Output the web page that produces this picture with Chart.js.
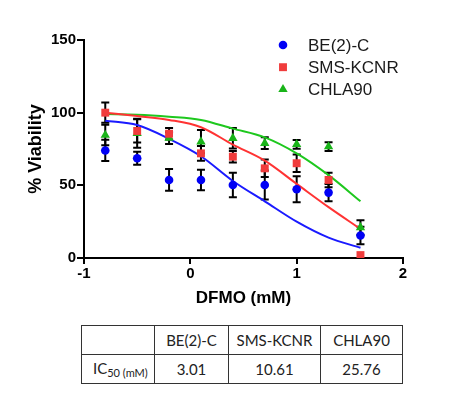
<!DOCTYPE html>
<html>
<head>
<meta charset="utf-8">
<script src="https://cdn.jsdelivr.net/npm/chart.js@4/dist/chart.umd.min.js"></script>
<style>
  html, body { margin: 0; padding: 0; background: #fff; }
  #wrap { position: relative; width: 450px; height: 395px; }
  #chartBox { position: absolute; left: 0; top: 0; width: 450px; height: 312px; }
  table { position: absolute; left: 81px; top: 325px; border-collapse: collapse;
          font-family: Lato, 'Open Sans', sans-serif; font-size: 15px; color: #222; }
  td { border: 1.5px solid #333; text-align: center; height: 28px; padding: 0; }
  td.lbl { text-align: left; padding-left: 11px; }
  sub { font-size: 11px; vertical-align: -3px; }
</style>
</head>
<body>
<div id="wrap">
  <div id="chartBox"><canvas id="myChart"></canvas></div>
  <table id="icTable"></table>
</div>
<script>
// log10 dose (mM)
const doseLog = [-0.8, -0.5, -0.2, 0.1, 0.4, 0.7, 1.0, 1.3, 1.6];
const be2cMean = [74, 68.6, 53.7, 53.7, 50.2, 50.2, 47.3, 45, 15.5];
const be2cErr = [7.3, 4.5, 7.5, 7, 8.4, 10, 9, 6, 6];
const kcnrMean = [100, 87.4, 85.5, 72, 69.7, 61.7, 65.2, 53.7, 2];
const kcnrErr = [7, 8, 4, 5, 4, 6, 6, 5, 0];
const chlaMean = [84.6, 85.8, 82.5, 80, 82.4, 79, 78.2, 76.6, 21];
const chlaErr = [7, 10, 4, 8, 7, 4, 3, 3, 5];

// fitted curves
const fitX = [-0.8, -0.5, -0.2, 0.1, 0.4, 0.7, 1.0, 1.3, 1.6];
const be2cFit = [94.5, 91.5, 82, 70, 53, 39, 25, 14, 7];
const kcnrFit = [100, 97.7, 95, 90, 78, 67, 51, 35, 20];
const chlaFit = [99, 98.6, 97.2, 95, 89, 83, 72, 57, 39];

const lineNames = ['BE(2)-C', 'SMS-KCNR', 'CHLA90'];
const ic50Values = ['3.01', '10.61', '25.76'];
const xTicks = [-1, 0, 1, 2];
const yTicks = [0, 50, 100, 150];

const BLUE = '#0000f5', RED = '#f03c3c', GREEN = '#19b419';
const BLUE_L = '#1a1aff', RED_L = '#ff3333', GREEN_L = '#1ec81e';

const pts = (xs, ys) => xs.map((x, i) => ({ x: x, y: ys[i] }));

// error bars behind the markers
const errorBars = {
  id: 'errorBars',
  beforeDatasetsDraw(chart) {
    const { ctx, scales: { x, y } } = chart;
    const sets = [[be2cMean, be2cErr], [kcnrMean, kcnrErr], [chlaMean, chlaErr]];
    ctx.save();
    ctx.strokeStyle = '#000';
    ctx.lineWidth = 2;
    sets.forEach(([m, e]) => {
      doseLog.forEach((d, i) => {
        if (!e[i]) return;
        const px = x.getPixelForValue(d);
        const top = y.getPixelForValue(m[i] + e[i]);
        const bot = y.getPixelForValue(m[i] - e[i]);
        ctx.beginPath();
        ctx.moveTo(px, top); ctx.lineTo(px, bot);
        ctx.moveTo(px - 4, top); ctx.lineTo(px + 4, top);
        ctx.moveTo(px - 4, bot); ctx.lineTo(px + 4, bot);
        ctx.stroke();
      });
    });
    ctx.restore();
  }
};

// legend inside the plot, top right
const innerLegend = {
  id: 'innerLegend',
  afterDraw(chart) {
    const ctx = chart.ctx;
    const left = chart.chartArea.right - 120;
    ctx.save();
    ctx.font = '17px "Liberation Sans", Arial, sans-serif';
    ctx.textBaseline = 'middle';
    for (let i = 0; i < 3; i++) {
      const ds = chart.data.datasets[i];
      const yy = 45 + i * 22.2;
      ctx.fillStyle = ds.backgroundColor;
      Chart.helpers.drawPoint(ctx, { pointStyle: ds.pointStyle, radius: ds.pointRadius, rotation: 0, borderWidth: 0 }, left, yy);
      ctx.fillStyle = '#1a1a1a';
      ctx.fillText(lineNames[i], left + 25, yy + 1);
    }
    ctx.restore();
  }
};

const tickFont = { family: '"Liberation Sans", Arial, sans-serif', size: 15, weight: 'bold' };

new Chart(document.getElementById('myChart'), {
  type: 'scatter',
  data: {
    datasets: [
      { label: lineNames[0], data: pts(doseLog, be2cMean), backgroundColor: BLUE, borderWidth: 0, pointStyle: 'circle', pointRadius: 4.3 },
      { label: lineNames[1], data: pts(doseLog, kcnrMean), backgroundColor: RED, borderWidth: 0, pointStyle: 'rect', pointRadius: 5.6 },
      { label: lineNames[2], data: pts(doseLog, chlaMean), backgroundColor: GREEN, borderWidth: 0, pointStyle: 'triangle', pointRadius: 5.4 },
      { type: 'line', data: pts(fitX, be2cFit), borderColor: BLUE_L, borderWidth: 2, pointRadius: 0, cubicInterpolationMode: 'monotone', fill: false },
      { type: 'line', data: pts(fitX, kcnrFit), borderColor: RED_L, borderWidth: 2, pointRadius: 0, cubicInterpolationMode: 'monotone', fill: false },
      { type: 'line', data: pts(fitX, chlaFit), borderColor: GREEN_L, borderWidth: 2, pointRadius: 0, cubicInterpolationMode: 'monotone', fill: false }
    ]
  },
  options: {
    responsive: true,
    maintainAspectRatio: false,
    animation: false,
    layout: { padding: { top: 40, right: 47, left: 0, bottom: 0 } },
    plugins: { legend: { display: false }, tooltip: { enabled: false } },
    scales: {
      x: {
        type: 'linear', min: -1, max: 2,
        afterBuildTicks: s => { s.ticks = xTicks.map(v => ({ value: v })); },
        afterFit: s => { s.height = 54; },
        grid: { display: true, drawOnChartArea: false, color: '#000', lineWidth: 2, tickLength: 6 },
        border: { display: true, color: '#000', width: 2 },
        ticks: { color: '#000', font: tickFont, padding: 1, maxRotation: 0 },
        title: { display: true, text: 'DFMO (mM)', color: '#000', padding: { top: 0, bottom: 3 },
                 font: { family: '"Liberation Sans", Arial, sans-serif', size: 17, weight: 'bold' } }
      },
      y: {
        min: 0, max: 150,
        afterBuildTicks: s => { s.ticks = yTicks.map(v => ({ value: v })); },
        afterFit: s => { s.width = 84; },
        grid: { display: true, drawOnChartArea: false, color: '#000', lineWidth: 2, tickLength: 7 },
        border: { display: true, color: '#000', width: 2 },
        ticks: { color: '#000', font: tickFont, padding: 1 },
        title: { display: true, text: '% Viability', color: '#000', padding: { top: 25, bottom: 0 },
                 font: { family: '"Liberation Sans", Arial, sans-serif', size: 18, weight: 'bold' } }
      }
    }
  },
  plugins: [errorBars, innerLegend]
});

// IC50 table
const colWidths = [72, 73, 91, 81];
const table = document.getElementById('icTable');
const head = table.insertRow();
const body = table.insertRow();
[''].concat(lineNames).forEach((t, i) => {
  const c = head.insertCell();
  c.textContent = t;
  c.style.width = colWidths[i] + 'px';
});
const lbl = body.insertCell();
lbl.className = 'lbl';
lbl.innerHTML = 'IC<sub>50 (mM)</sub>';
ic50Values.forEach(v => { body.insertCell().textContent = v; });
</script>
</body>
</html>
